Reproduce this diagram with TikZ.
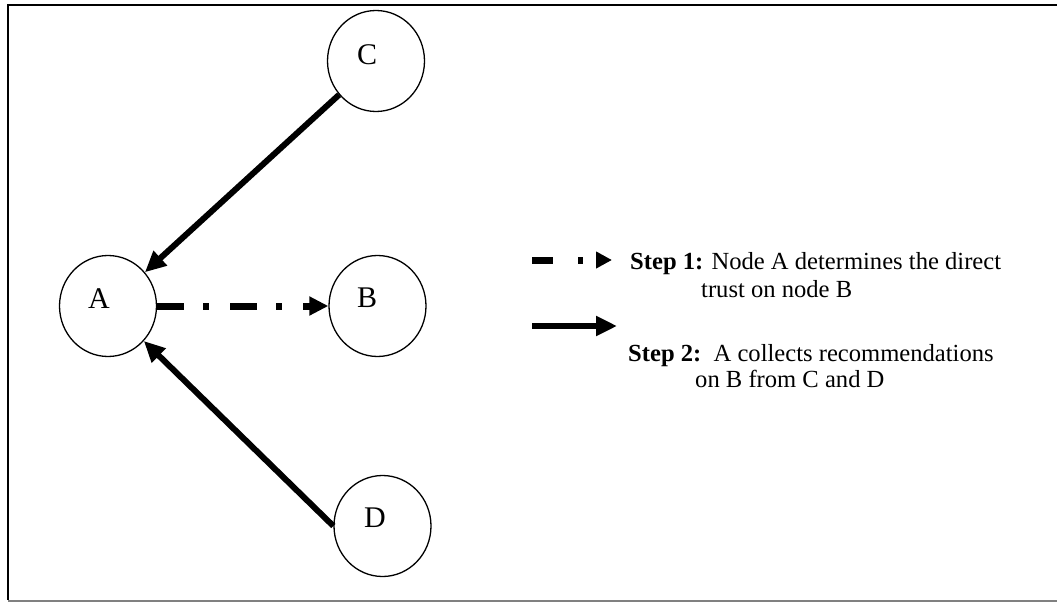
\documentclass[tikz,border=0pt]{standalone}
\usepackage{fontspec}
\setmainfont{Liberation Serif}
\usetikzlibrary{arrows.meta,shapes.geometric}
\begin{document}
\begin{tikzpicture}[x=1pt,y=-1pt,
  peer/.style={ellipse,draw,line width=1.3pt,minimum width=97pt,minimum height=101pt,inner sep=0pt},
  peerlabel/.style={inner sep=0pt,font=\fontsize{30}{35}\selectfont},
  legendtext/.style={inner sep=0pt,anchor=base west,font=\fontsize{24.6}{29}\selectfont},
  recommend/.style={line width=6pt,-{Triangle[length=21pt,width=19pt]}},
  directtrust/.style={line width=7pt,-{Triangle[length=19pt,width=18pt]},
    dash pattern=on 27pt off 19pt on 6pt off 21pt}
]
\useasboundingbox (0,0) rectangle (1057,602);
% frame
\draw[line width=2pt] (1070,5) -- (8,5) -- (8,600);
\draw[line width=2pt,gray] (8,600.5) -- (1070,600.5);

% peers
\node[peer] (A) at (108,306) {};
\node[peer] (B) at (377.5,306) {};
\node[peer] (C) at (376,61) {};
\node[peer] (D) at (382.5,526) {};
\node[peerlabel] (Alab) at (99,299) {A};
\node[peerlabel] (Blab) at (367,298) {B};
\node[peerlabel] (Clab) at (367,55) {C};
\node[peerlabel] (Dlab) at (375,518) {D};

% connectors
\draw[recommend] (C) -- (A);
\draw[recommend] (D.west) -- (A);
\draw[directtrust] (A.east) -- (B.west);

% legend
\coordinate (k1s) at (532,260);
\coordinate (k1e) at (612,260);
\coordinate (k2s) at (532,326);
\coordinate (k2e) at (617,326);
\draw[line width=7pt,-{Triangle[length=16pt,width=16pt]},
  dash pattern=on 21pt off 25pt on 5pt off 13pt] (k1s) -- (k1e);
\draw[recommend] (k2s) -- (k2e);
\node[legendtext] (s1a) at (630,269) {\textbf{Step 1:} Node A determines the direct};
\node[legendtext] (s1b) at (701,297) {trust on node B};
\node[legendtext] (s2a) at (628,361) {\textbf{Step 2:}\ \ A collects recommendations};
\node[legendtext] (s2b) at (695,387) {on B from C and D};
\end{tikzpicture}
\end{document}
